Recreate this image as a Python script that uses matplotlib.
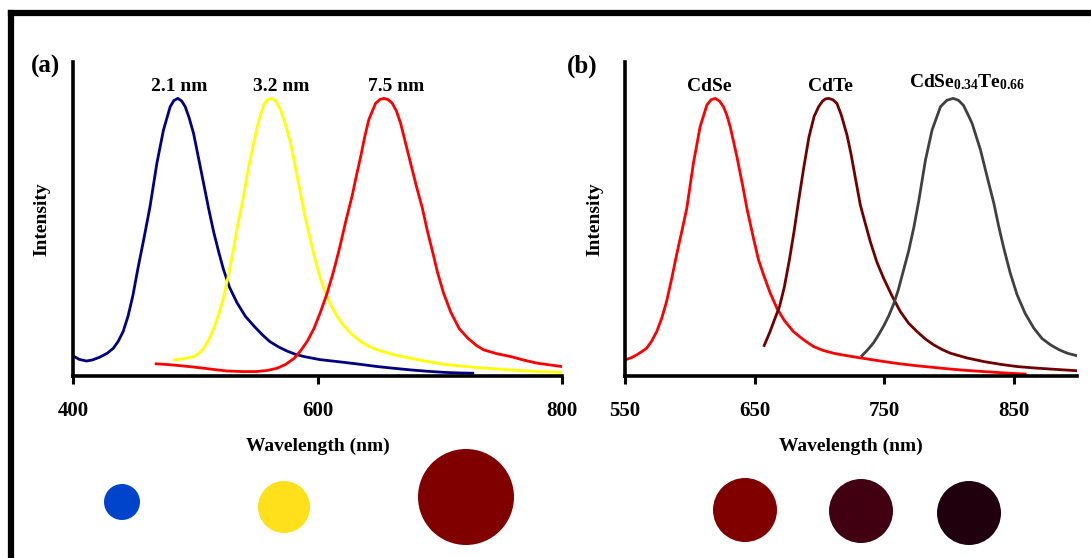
import numpy as np
import matplotlib
matplotlib.use("Agg")
import matplotlib.pyplot as plt
from matplotlib.lines import Line2D
from matplotlib.patches import Ellipse

plt.rcParams['font.family'] = ['Liberation Serif', 'DejaVu Serif']
plt.rcParams['font.weight'] = 'bold'
plt.rcParams['mathtext.fontset'] = 'custom'
plt.rcParams['mathtext.rm'] = 'Liberation Serif:bold'
plt.rcParams['mathtext.bf'] = 'Liberation Serif:bold'
plt.rcParams['mathtext.it'] = 'Liberation Serif:bold:italic'

# ---- panel (a): size series ----
blue_w = [400, 405, 411, 416, 422, 428, 433, 437, 441, 445, 449, 453, 458, 463, 468.6, 474,
          479.5, 482.5, 485.8, 489, 491.8, 495, 498.6, 504.1, 510.9, 515, 519, 523, 528, 534,
          541, 548, 555, 561, 568, 575, 582, 589, 596, 602, 612, 622, 635, 649, 662, 676, 690,
          704, 716, 727]
blue_i = [0.073, 0.060, 0.054, 0.058, 0.068, 0.082, 0.10, 0.125, 0.16, 0.215, 0.29, 0.385,
          0.495, 0.61, 0.766, 0.886, 0.970, 0.992, 1.0, 0.99, 0.970, 0.93, 0.874, 0.754, 0.604,
          0.52, 0.45, 0.385, 0.32, 0.265, 0.215, 0.18, 0.148, 0.124, 0.105, 0.090, 0.078,
          0.070, 0.064, 0.059, 0.054, 0.049, 0.042, 0.034, 0.028, 0.022, 0.017, 0.013, 0.011,
          0.010]

yellow_w = [483, 490, 499, 503, 507, 511, 515, 519, 523, 527, 531, 535, 539.6, 543.5, 547.8,
            552, 556, 559, 562.3, 566, 569.7, 573.5, 577.9, 582, 586, 590, 594.2, 598, 602.4,
            606.5, 610.7, 616, 621.6, 628, 635.3, 642, 649, 662, 676, 690, 704, 717, 731, 745,
            758, 772, 786, 800]
yellow_i = [0.058, 0.062, 0.070, 0.082, 0.10, 0.13, 0.17, 0.22, 0.28, 0.36, 0.45, 0.55, 0.65,
            0.75, 0.84, 0.92, 0.976, 0.995, 1.0, 0.99, 0.96, 0.91, 0.84, 0.75, 0.66, 0.57, 0.49,
            0.42, 0.35, 0.30, 0.256, 0.215, 0.18, 0.15, 0.124, 0.107, 0.094, 0.077, 0.064,
            0.052, 0.042, 0.036, 0.030, 0.026, 0.022, 0.018, 0.015, 0.013]

red_w = [468, 478, 488, 497, 507, 516, 526, 538, 550, 559, 567, 574, 581, 586, 591.5, 597,
         602.4, 608, 613, 618, 623, 628.4, 631.5, 635.3, 638.8, 642.1, 647.5, 651, 654.4, 658,
         661.2, 664.5, 668, 674.8, 681.7, 685.8, 690, 694, 698, 703, 709, 716, 723, 730, 736,
         747, 758, 769, 780, 790, 800]
red_i = [0.044, 0.041, 0.037, 0.033, 0.028, 0.023, 0.018, 0.016, 0.016, 0.020, 0.028, 0.042,
         0.064, 0.090, 0.124, 0.17, 0.23, 0.30, 0.375, 0.46, 0.555, 0.65, 0.715, 0.79, 0.865,
         0.925, 0.982, 0.996, 1.0, 0.995, 0.982, 0.955, 0.91, 0.79, 0.67, 0.604, 0.52, 0.45,
         0.376, 0.30, 0.23, 0.17, 0.136, 0.11, 0.094, 0.080, 0.070, 0.057, 0.046, 0.040, 0.034]

size_labels = ['2.1 nm', '3.2 nm', '7.5 nm']
size_label_w = [487, 570, 664]

# ---- panel (b): composition series ----
cdse_w = [550, 555, 559, 563, 566.7, 570.5, 574.5, 578.5, 582.2, 586, 590, 593.8, 597.7, 602.8,
          608, 613.2, 616.5, 619.6, 623, 626, 628.6, 631.2, 636.4, 641.5, 644.1, 649.2, 653,
          657, 662, 667.3, 673, 680, 688, 695.6, 703, 711, 719, 728, 739, 750, 762, 775, 788,
          801, 814, 827, 843, 859]
cdse_i = [0.058, 0.066, 0.076, 0.088, 0.10, 0.125, 0.16, 0.21, 0.27, 0.35, 0.44, 0.52, 0.604,
          0.766, 0.898, 0.976, 0.995, 1.0, 0.99, 0.97, 0.94, 0.898, 0.79, 0.67, 0.604, 0.496,
          0.42, 0.364, 0.30, 0.244, 0.20, 0.16, 0.13, 0.106, 0.092, 0.082, 0.075, 0.068, 0.060,
          0.052, 0.044, 0.037, 0.031, 0.025, 0.020, 0.016, 0.011, 0.007]

cdte_w = [657.5, 662, 666, 669.3, 673, 677, 680.5, 684, 688, 692, 696, 699.5, 702.5, 704.8,
          707.2, 710.5, 713.6, 717, 721.4, 724.5, 728, 731.7, 735.5, 739.4, 744.5, 749.7, 756,
          762.6, 769, 775.5, 782, 788.4, 795, 801.3, 814, 827, 840, 852.8, 866, 878.6, 899]
cdte_i = [0.11, 0.16, 0.21, 0.25, 0.32, 0.42, 0.52, 0.63, 0.75, 0.86, 0.935, 0.97, 0.99, 0.998,
          1.0, 0.995, 0.982, 0.94, 0.868, 0.80, 0.71, 0.616, 0.55, 0.484, 0.41, 0.352, 0.29,
          0.232, 0.19, 0.16, 0.133, 0.112, 0.095, 0.082, 0.065, 0.052, 0.042, 0.034, 0.029,
          0.025, 0.019]

alloy_w = [733, 737.5, 742, 746, 749.7, 753.5, 757.5, 761, 765, 769, 773, 776.8, 782, 787.1,
           793.6, 798.5, 803.4, 807.5, 811.3, 814.5, 818, 824.5, 829.6, 834.8, 838.5, 842.5,
           847.5, 852.8, 859, 865.7, 872, 878.6, 885, 891.5, 899]
alloy_i = [0.073, 0.095, 0.12, 0.15, 0.18, 0.215, 0.26, 0.31, 0.38, 0.45, 0.535, 0.63, 0.778,
           0.886, 0.97, 0.993, 1.0, 0.993, 0.975, 0.945, 0.91, 0.814, 0.718, 0.622, 0.54, 0.46,
           0.37, 0.292, 0.225, 0.172, 0.135, 0.112, 0.095, 0.082, 0.073]

comp_labels = ['CdSe', 'CdTe', r'CdSe$_{0.34}$Te$_{0.66}$']
comp_label_w = [615, 709, 814]

# colour swatches under the plots
swatch_colors = ['#0044cc', '#ffe01a', '#800000', '#800000', '#400012', '#20000c']
swatch_x = [122, 284, 466, 745, 861, 969]
swatch_y = [502, 507, 497, 510, 511, 513]
swatch_r = [18, 26, 48, 32, 32, 32]

W, H = 1091, 558
fig = plt.figure(figsize=(W / 100, H / 100), dpi=100)

# swatch layer in pixel coordinates
bg = fig.add_axes([0, 0, 1, 1])
bg.set_xlim(0, W)
bg.set_ylim(H, 0)
bg.axis('off')
for cx, cy, r, c in zip(swatch_x, swatch_y, swatch_r, swatch_colors):
    bg.add_patch(Ellipse((cx, cy), 2 * r, 2 * r, color=c, lw=0))

# thick frame (only left and top edges fall inside the image)
fig.add_artist(Line2D([11 / W, 11 / W], [0, 1 - 13 / H], color='black', lw=4.5,
                      solid_capstyle='projecting'))
fig.add_artist(Line2D([11 / W, 1], [1 - 13 / H, 1 - 13 / H], color='black', lw=4.5,
                      solid_capstyle='projecting'))

bottom = 1 - 376 / H
height = 314 / H
ax_a = fig.add_axes([73 / W, bottom, 489 / W, height])
ax_b = fig.add_axes([625 / W, bottom, 452 / W, height])


def style(ax, xlim, ticks, ylab_x):
    ax.set_xlim(*xlim)
    ax.set_ylim(0, 1.131)
    ax.set_xticks(ticks)
    ax.set_yticks([])
    for s in ['top', 'right']:
        ax.spines[s].set_visible(False)
    for s in ['left', 'bottom']:
        ax.spines[s].set_linewidth(2.6)
    ax.tick_params(axis='x', direction='out', length=6, width=2.2, pad=12, labelsize=15)
    ax.set_xlabel('Wavelength (nm)', fontsize=14, fontweight='bold')
    ax.xaxis.set_label_coords(0.5, -0.195)
    ax.set_ylabel('Intensity', fontsize=14, fontweight='bold')
    ax.yaxis.set_label_coords(ylab_x, 0.5)
    ax.yaxis.label.set_verticalalignment('center')
    ax.patch.set_alpha(0)


style(ax_a, (400, 800), [400, 600, 800], -0.063)
style(ax_b, (550, 899), [550, 650, 750, 850], -0.066)

lw = 2.0
ax_a.plot(blue_w, blue_i, color='#000080', lw=lw)
ax_a.plot(yellow_w, yellow_i, color='#ffff00', lw=lw)
ax_a.plot(red_w, red_i, color='#ff0000', lw=lw)
for lab, w in zip(size_labels, size_label_w):
    ax_a.text(w, 1.025, lab, ha='center', va='baseline', fontsize=14, fontweight='bold')

ax_b.plot(cdse_w, cdse_i, color='#ff0000', lw=lw)
ax_b.plot(cdte_w, cdte_i, color='#700000', lw=lw)
ax_b.plot(alloy_w, alloy_i, color='#404040', lw=lw)
for lab, w, dy in zip(comp_labels, comp_label_w, [0, 0, 0.015]):
    ax_b.text(w, 1.025 + dy, lab, ha='center', va='baseline', fontsize=14, fontweight='bold')

fig.text(46 / W, 1 - 66 / H, '(a)', ha='center', va='center', fontsize=18, fontweight='bold')
fig.text(582 / W, 1 - 66 / H, '(b)', ha='center', va='center', fontsize=18, fontweight='bold')

fig.savefig('out.png', dpi=100)
